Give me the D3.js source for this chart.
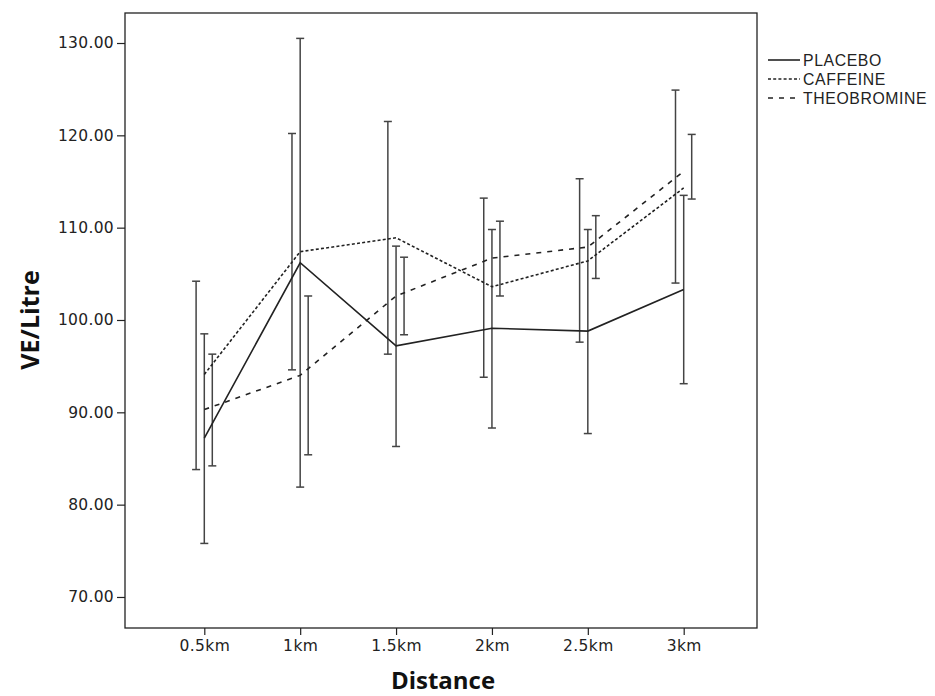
<!DOCTYPE html>
<html><head><meta charset="utf-8">
<script src="https://cdn.jsdelivr.net/npm/d3@7"></script>
<style>
body{margin:0;background:#fff;}
svg{display:block;}
text{font-family:"DejaVu Sans",Verdana,sans-serif;}
</style></head>
<body>
<svg id="chart" width="935" height="696"></svg>
<script>
const categories = ["0.5km","1km","1.5km","2km","2.5km","3km"];
const seriesNames = ["PLACEBO","CAFFEINE","THEOBROMINE"];
const placeboMean = [87.2,106.2,97.2,99.1,98.8,103.3];
const placeboLow  = [75.8,81.9,86.3,88.3,87.7,93.1];
const placeboHigh = [98.5,130.5,108.0,109.8,109.8,113.5];
const caffeineMean = [94.1,107.4,108.9,103.6,106.4,114.3];
const caffeineLow  = [83.8,94.6,96.3,93.8,97.6,104.0];
const caffeineHigh = [104.2,120.2,121.5,113.2,115.3,124.9];
const theobromineMean = [90.3,94.0,102.6,106.7,107.9,116.1];
const theobromineLow  = [84.2,85.4,98.4,102.6,104.5,113.1];
const theobromineHigh = [96.3,102.6,106.8,110.7,111.3,120.1];
const yTicks = [70,80,90,100,110,120,130];

const svg = d3.select("#chart");
const frame = {left:125, right:757, top:13, bottom:628};

const x = d3.scalePoint().domain(categories).range([204.3, 683.7]);
const y = d3.scaleLinear().domain([66.64, 133.25]).range([frame.bottom, frame.top]);

const series = [
  {name:seriesNames[0], mean:placeboMean, low:placeboLow, high:placeboHigh, dash:null, offset:0},
  {name:seriesNames[1], mean:caffeineMean, low:caffeineLow, high:caffeineHigh, dash:"3,2.2", offset:-8.2},
  {name:seriesNames[2], mean:theobromineMean, low:theobromineLow, high:theobromineHigh, dash:"5,6", offset:8}
];

// frame
svg.append("rect").attr("x",frame.left).attr("y",frame.top)
  .attr("width",frame.right-frame.left).attr("height",frame.bottom-frame.top)
  .attr("fill","none").attr("stroke","#222").attr("stroke-width",1.3);

// y axis
const yAxis = svg.append("g").attr("transform",`translate(${frame.left},0)`)
  .call(d3.axisLeft(y).tickValues(yTicks).tickFormat(d3.format(".2f")).tickSize(8).tickPadding(3));
yAxis.select(".domain").remove();
yAxis.selectAll(".tick line").attr("stroke","#222").attr("stroke-width",1.2);
yAxis.selectAll(".tick text").attr("fill","#222").style("font-size","15.5px")
  .style("letter-spacing","0.3px").style("font-family","'DejaVu Sans',Verdana,sans-serif");

// x axis
const xAxis = svg.append("g").attr("transform",`translate(0,${frame.bottom})`)
  .call(d3.axisBottom(x).tickSize(7).tickPadding(5));
xAxis.select(".domain").remove();
xAxis.selectAll(".tick line").attr("stroke","#222").attr("stroke-width",1.2);
xAxis.selectAll(".tick text").attr("fill","#222").style("font-size","15.5px")
  .style("letter-spacing","0.4px").style("font-family","'DejaVu Sans',Verdana,sans-serif");

// axis titles
svg.append("text").attr("x",443).attr("y",689).attr("text-anchor","middle")
  .style("font-family","'Open Sans',sans-serif")
  .style("font-size","24px").style("font-weight","bold").attr("fill","#111").text("Distance");
svg.append("text").attr("transform","translate(39,320) rotate(-90)").attr("text-anchor","middle")
  .style("font-family","'Open Sans',sans-serif")
  .style("font-size","25px").style("font-weight","bold").attr("fill","#111").text("VE/Litre");

// error bars
series.forEach(s => {
  const g = svg.append("g");
  categories.forEach((c,i) => {
    const cx = x(c) + s.offset;
    g.append("line").attr("x1",cx).attr("x2",cx).attr("y1",y(s.low[i])).attr("y2",y(s.high[i]))
      .attr("stroke","#444").attr("stroke-width",1.5);
    [s.low[i], s.high[i]].forEach(v => {
      g.append("line").attr("x1",cx-4).attr("x2",cx+4).attr("y1",y(v)).attr("y2",y(v))
        .attr("stroke","#444").attr("stroke-width",1.5);
    });
  });
});

// mean lines
const line = d3.line().x((d,i)=>x(categories[i])).y(d=>y(d));
series.forEach(s => {
  svg.append("path").datum(s.mean).attr("d",line).attr("fill","none")
    .attr("stroke","#222").attr("stroke-width",1.6)
    .attr("stroke-dasharray", s.dash);
});

// legend
const leg = svg.append("g").attr("transform","translate(768,60)");
series.forEach((s,i) => {
  const gy = i*19;
  leg.append("line").attr("x1",0).attr("x2",32).attr("y1",gy).attr("y2",gy)
    .attr("stroke","#222").attr("stroke-width",1.6).attr("stroke-dasharray", s.dash);
  leg.append("text").attr("x",35).attr("y",gy+5.5).style("font-family","'Liberation Sans',Arial,sans-serif")
    .style("font-size","15.8px").style("letter-spacing","0.6px").attr("fill","#222").text(s.name);
});
</script>
</body></html>
